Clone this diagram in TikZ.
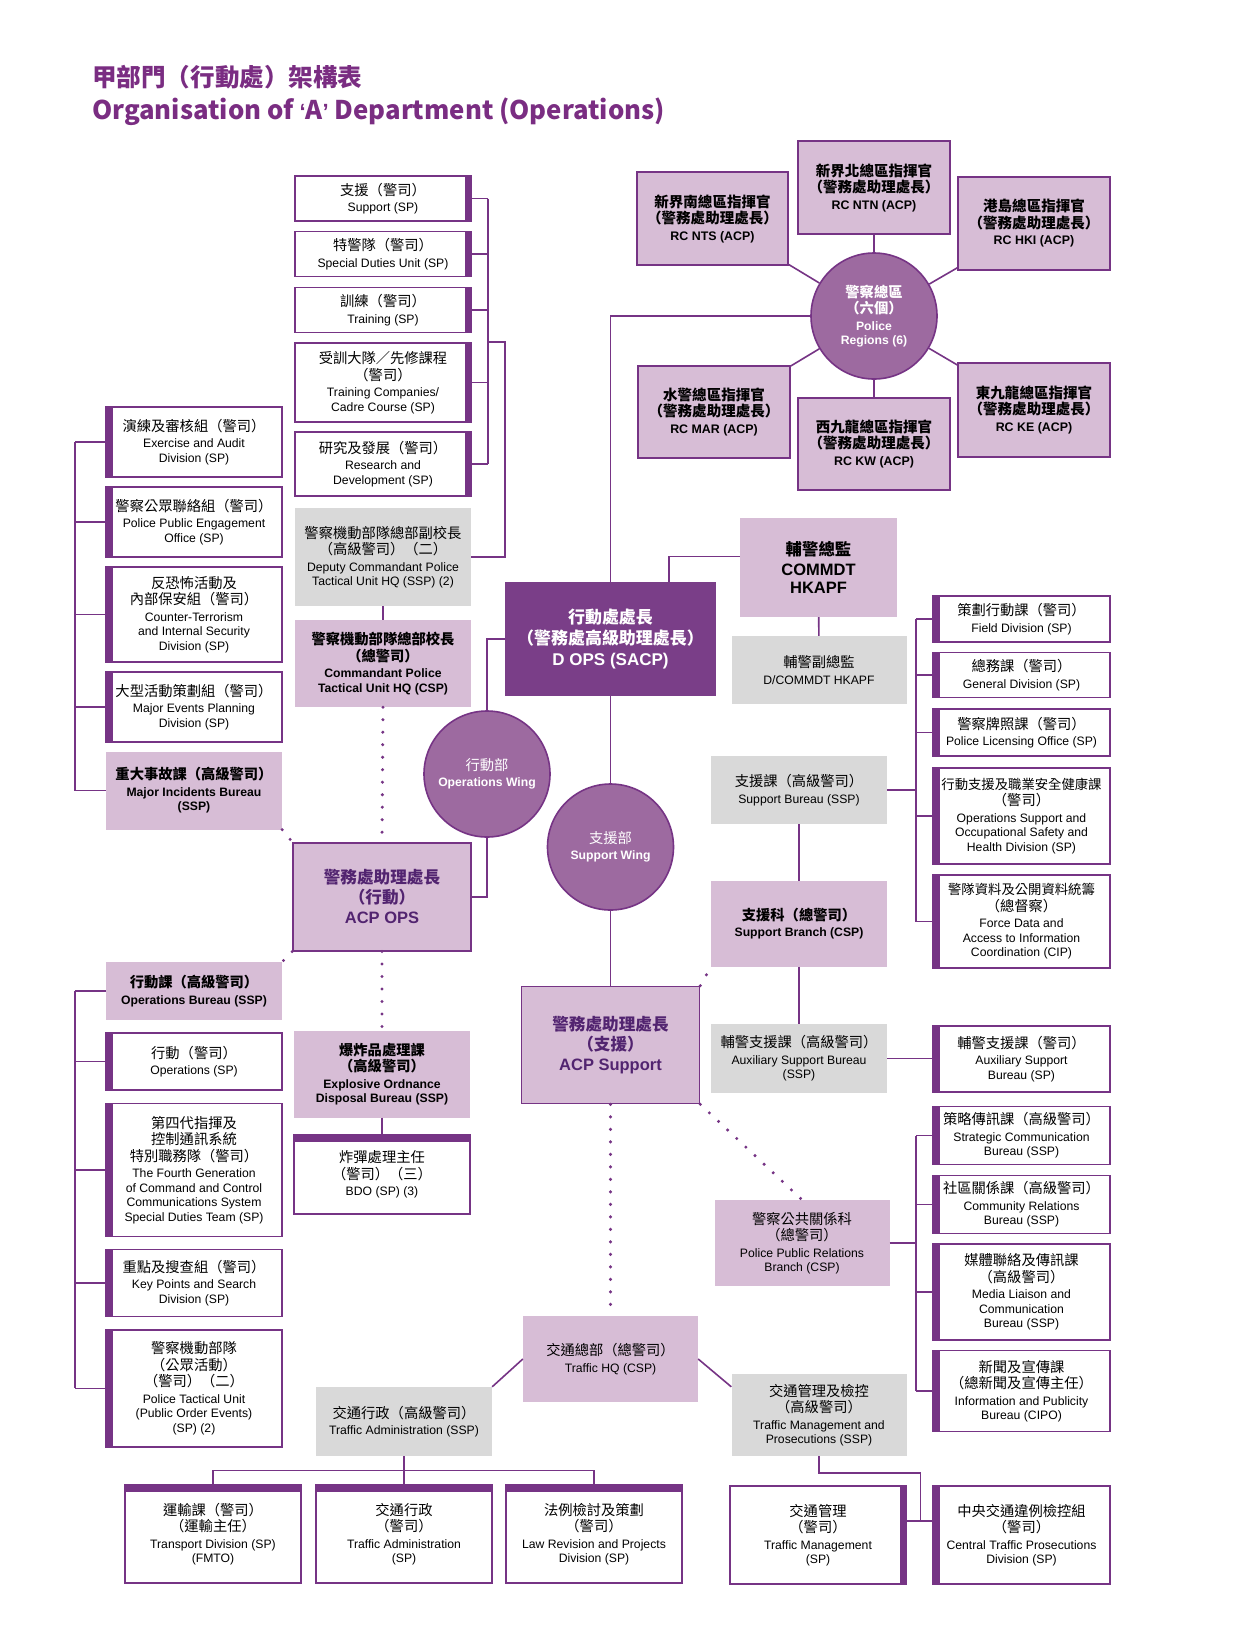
\documentclass[tikz,border=0pt]{standalone}
\usepackage{fontspec}
\setmainfont{Liberation Sans}
\newfontfamily\cjk[Scale=1.17]{Noto Sans CJK TC}
\usepackage{tikz}
\definecolor{OpsPurple}{RGB}{118,52,133}
\definecolor{OpsDark}{RGB}{122,62,136}
\definecolor{WingPurple}{RGB}{157,106,160}
\definecolor{LightPurple}{RGB}{215,189,214}
\definecolor{BoxGray}{RGB}{217,217,217}
\definecolor{TitlePurple}{RGB}{122,45,130}
\definecolor{AcpText}{RGB}{82,36,112}
\newcommand{\zh}[1]{{\cjk #1}\\[2pt]}
\newcommand{\zhs}[1]{{\cjk\fontsize{11.4}{14}\selectfont #1}\\[2pt]}
\newcommand{\bigen}[1]{{\fontsize{16.5}{19}\selectfont #1}}

\begin{document}
\begin{tikzpicture}[x=1pt, y=-1pt, font=\fontsize{12.2}{14.5}\selectfont,
  ln/.style={draw=OpsPurple, line width=1.6pt},
  dots/.style={draw=OpsPurple, line width=3.4pt, line cap=round, dash pattern=on 0pt off 12.5pt},
  box/.style={align=center, inner sep=2pt, minimum width=176pt},
  lbar/.style={box, draw=OpsPurple, line width=1.6pt, fill=white,
              path picture={\fill[OpsPurple] (path picture bounding box.north west) rectangle ([xshift=6.5pt]path picture bounding box.south west);}},
  rbar/.style={box, draw=OpsPurple, line width=1.6pt, fill=white,
              path picture={\fill[OpsPurple] ([xshift=-6.5pt]path picture bounding box.north east) rectangle (path picture bounding box.south east);}},
  tbar/.style={box, draw=OpsPurple, line width=1.6pt, fill=white,
              path picture={\fill[OpsPurple] (path picture bounding box.north west) rectangle ([yshift=-7pt]path picture bounding box.north east);}},
  pbox/.style={box, fill=LightPurple, font=\fontsize{12.2}{14.5}\selectfont\bfseries},
  lpbox/.style={box, fill=LightPurple},
  gbox/.style={box, fill=BoxGray},
  rcbox/.style={box, minimum width=152pt, fill=LightPurple, draw=OpsPurple, line width=1.6pt,
                font=\fontsize{12.4}{14.5}\selectfont\bfseries},
  acp/.style={box, minimum width=178pt, fill=LightPurple, draw=OpsPurple, line width=1.6pt,
              text=AcpText, font=\fontsize{14.2}{18}\selectfont\bfseries},
  wing/.style={circle, minimum size=126pt, inner sep=0pt, fill=WingPurple, draw=OpsPurple,
               line width=1.6pt, text=white, align=center}]
  \fill[white] (0,0) rectangle (1240,1650);
  \useasboundingbox (0,0) rectangle (1240,1650);

  \node[anchor=west, inner sep=0pt, text=TitlePurple, font=\fontsize{21}{26}\selectfont\bfseries\cjk] (ttlzh) at (92,77) {甲部門（行動處）架構表};
  \node[anchor=west, inner sep=0pt, text=TitlePurple, font=\fontsize{22}{26}\selectfont\bfseries\cjk] (ttlen) at (92,112) {Organisation of {\rmfamily ‘}A{\rmfamily ’} Department (Operations)};

  % police regions
  \node[wing, font=\fontsize{12.2}{14.5}\selectfont\bfseries] (reg) at (874,316) {\zh{警察總區}\zh{（六個）}Police\\Regions (6)};
  \node[rcbox, minimum width=151pt, minimum height=93pt] (nts) at (712.5,218.5) {\zh{新界南總區指揮官}\zh{（警務處助理處長）}RC NTS (ACP)};
  \node[rcbox, minimum height=93pt] (ntn) at (874,187.5) {\zh{新界北總區指揮官}\zh{（警務處助理處長）}RC NTN (ACP)};
  \node[rcbox, minimum height=93pt] (hki) at (1034,223.5) {\zh{港島總區指揮官}\zh{（警務處助理處長）}RC HKI (ACP)};
  \node[rcbox, minimum height=92pt] (mar) at (714,412) {\zh{水警總區指揮官}\zh{（警務處助理處長）}RC MAR (ACP)};
  \node[rcbox, minimum height=92pt] (kw) at (874,444) {\zh{西九龍總區指揮官}\zh{（警務處助理處長）}RC KW (ACP)};
  \node[rcbox, minimum height=94pt] (ke) at (1034,410) {\zh{東九龍總區指揮官}\zh{（警務處助理處長）}RC KE (ACP)};

  % top left column
  \node[rbar, minimum height=45pt] (sup) at (383,198.5) {\zh{支援（警司）}Support (SP)};
  \node[rbar, minimum height=45pt] (sdu) at (383,254) {\zh{特警隊（警司）}Special Duties Unit (SP)};
  \node[rbar, minimum height=45pt] (trn) at (383,310) {\zh{訓練（警司）}Training (SP)};
  \node[rbar, minimum height=79pt] (tcc) at (383,382.5) {\zh{受訓大隊／先修課程}\zh{（警司）}Training Companies/\\Cadre Course (SP)};
  \node[rbar, minimum height=64pt] (rnd) at (383,463.7) {\zh{研究及發展（警司）}Research and\\Development (SP)};
  \node[gbox, minimum height=98pt] (dcptu) at (383,557) {\zh{警察機動部隊總部副校長}\zh{（高級警司）（二）}Deputy Commandant Police\\Tactical Unit HQ (SSP) (2)};
  \node[pbox, minimum height=87pt] (cptu) at (383,663.5) {\zh{警察機動部隊總部校長}\zh{（總警司）}Commandant Police\\Tactical Unit HQ (CSP)};

  % left column, upper
  \node[lbar, minimum height=70pt] (ead) at (194,442) {\zh{演練及審核組（警司）}Exercise and Audit\\Division (SP)};
  \node[lbar, minimum height=70pt] (ppe) at (194,522) {\zh{警察公眾聯絡組（警司）}Police Public Engagement\\Office (SP)};
  \node[lbar, minimum height=95pt] (cti) at (194,614.5) {\zh{反恐怖活動及}\zh{內部保安組（警司）}Counter-Terrorism\\and Internal Security\\Division (SP)};
  \node[lbar, minimum height=70pt] (mep) at (194,707) {\zh{大型活動策劃組（警司）}Major Events Planning\\Division (SP)};
  \node[pbox, minimum height=78pt] (mib) at (194,790.5) {\zh{重大事故課（高級警司）}Major Incidents Bureau\\(SSP)};

  % centre
  \node[box, minimum width=211pt, minimum height=114pt, fill=OpsDark, text=white,
        font=\fontsize{14.5}{19}\selectfont\bfseries] (dops) at (610.5,639) {\zh{行動處處長}\zh{（警務處高級助理處長）}{\fontsize{17}{19}\selectfont D OPS (SACP)}};
  \node[pbox, minimum width=157pt, minimum height=99pt, font=\fontsize{14}{18}\selectfont\bfseries] (commdt) at (818.5,567.5) {\zh{輔警總監}\bigen{COMMDT}\\\bigen{HKAPF}};
  \node[gbox, minimum width=175pt, minimum height=68pt] (dcommdt) at (819,670) {\zh{輔警副總監}D/COMMDT HKAPF};
  \node[wing] (opw) at (487,774) {\zh{行動部}\textbf{Operations Wing}};
  \node[wing] (spw) at (610.5,847) {\zh{支援部}\textbf{Support Wing}};
  \node[acp, minimum height=108pt] (acpops) at (382,896.7) {\zh{警務處助理處長}\zh{（行動）}\bigen{ACP OPS}};
  \node[acp, minimum height=117pt] (acpsup) at (610.5,1045) {\zh{警務處助理處長}\zh{（支援）}\bigen{ACP Support}};

  % left column, lower
  \node[pbox, minimum height=58pt] (opb) at (194,991) {\zh{行動課（高級警司）}Operations Bureau (SSP)};
  \node[lbar, minimum height=57pt] (ops) at (194,1061.4) {\zh{行動（警司）}Operations (SP)};
  \node[lbar, minimum height=133pt] (fgc) at (194,1170) {\zh{第四代指揮及}\zh{控制通訊系統}\zh{特別職務隊（警司）}The Fourth Generation\\of Command and Control\\Communications System\\Special Duties Team (SP)};
  \node[lbar, minimum height=67pt] (kps) at (194,1283) {\zh{重點及搜查組（警司）}Key Points and Search\\Division (SP)};
  \node[lbar, minimum height=117pt] (ptu) at (194,1388.3) {\zh{警察機動部隊}\zh{（公眾活動）}\zh{（警司）（二）}Police Tactical Unit\\(Public Order Events)\\(SP) (2)};
  \node[pbox, minimum height=87pt] (eod) at (382,1074) {\zh{爆炸品處理課}\zh{（高級警司）}Explosive Ordnance\\Disposal Bureau (SSP)};
  \node[tbar, minimum height=79pt] (bdo) at (382,1174.5) {\zh{炸彈處理主任}\zh{（警司）（三）}BDO (SP) (3)};

  % support side
  \node[gbox, minimum height=68pt] (spb) at (799,790) {\zh{支援課（高級警司）}Support Bureau (SSP)};
  \node[pbox, minimum height=86pt] (spbr) at (799,923.7) {\zh{支援科（總警司）}Support Branch (CSP)};
  \node[gbox, minimum height=69pt] (asbs) at (799,1058.5) {\zh{輔警支援課（高級警司）}Auxiliary Support Bureau\\(SSP)};
  \node[lpbox, minimum width=175pt, minimum height=86pt] (pprb) at (802,1243) {\zh{警察公共關係科}\zh{（總警司）}Police Public Relations\\Branch (CSP)};

  % right column
  \node[lbar, minimum width=177pt, minimum height=46pt] (fld) at (1021.5,619) {\zh{策劃行動課（警司）}Field Division (SP)};
  \node[lbar, minimum width=177pt, minimum height=45pt] (gen) at (1021.5,675) {\zh{總務課（警司）}General Division (SP)};
  \node[lbar, minimum width=177pt, minimum height=47pt] (plo) at (1021.5,732.5) {\zh{警察牌照課（警司）}Police Licensing Office (SP)};
  \node[lbar, minimum width=177pt, minimum height=96pt] (osh) at (1021.5,816) {\zhs{行動支援及職業安全健康課}\zh{（警司）}Operations Support and\\Occupational Safety and\\Health Division (SP)};
  \node[lbar, minimum width=177pt, minimum height=93pt] (fda) at (1021.5,921.5) {\zhs{警隊資料及公開資料統籌}\zh{（總督察）}Force Data and\\Access to Information\\Coordination (CIP)};
  \node[lbar, minimum width=177pt, minimum height=66pt] (asb) at (1021.5,1059) {\zh{輔警支援課（警司）}Auxiliary Support\\Bureau (SP)};
  \node[lbar, minimum width=177pt, minimum height=58pt] (scb) at (1021.5,1135.5) {\zh{策略傳訊課（高級警司）}Strategic Communication\\Bureau (SSP)};
  \node[lbar, minimum width=177pt, minimum height=58pt] (crb) at (1021.5,1204.5) {\zh{社區關係課（高級警司）}Community Relations\\Bureau (SSP)};
  \node[lbar, minimum width=177pt, minimum height=96pt] (mlc) at (1021.5,1292) {\zh{媒體聯絡及傳訊課}\zh{（高級警司）}Media Liaison and\\Communication\\Bureau (SSP)};
  \node[lbar, minimum width=177pt, minimum height=81pt] (ipb) at (1021.5,1391) {\zh{新聞及宣傳課}\zh{（總新聞及宣傳主任）}Information and Publicity\\Bureau (CIPO)};

  % traffic
  \node[lpbox, minimum width=175pt, minimum height=86pt] (thq) at (610.5,1359) {\zh{交通總部（總警司）}Traffic HQ (CSP)};
  \node[gbox, minimum height=69pt] (tassp) at (404,1421.5) {\zh{交通行政（高級警司）}Traffic Administration (SSP)};
  \node[gbox, minimum width=175pt, minimum height=82pt] (tmp) at (819,1415) {\zh{交通管理及檢控}\zh{（高級警司）}Traffic Management and\\Prosecutions (SSP)};
  \node[tbar, minimum height=98pt] (trd) at (213,1534) {\zh{運輸課（警司）}\zh{（運輸主任）}Transport Division (SP)\\(FMTO)};
  \node[tbar, minimum height=98pt] (tasp) at (404,1534) {\zh{交通行政}\zh{（警司）}Traffic Administration\\(SP)};
  \node[tbar, minimum height=98pt] (lrp) at (594,1534) {\zh{法例檢討及策劃}\zh{（警司）}Law Revision and Projects\\Division (SP)};
  \node[rbar, minimum height=98pt] (tmsp) at (818,1535) {\zh{交通管理}\zh{（警司）}Traffic Management\\(SP)};
  \node[lbar, minimum width=177pt, minimum height=98pt] (ctp) at (1021.5,1535) {\zh{中央交通違例檢控組}\zh{（警司）}Central Traffic Prosecutions\\Division (SP)};

  \coordinate (tbr) at (488,198.5);
  \coordinate (lbr) at (75,442);
  \coordinate (rbr) at (916,619);
  \coordinate (trail) at (404,1470.5);
  \coordinate (tjoin) at (920.5,1521);

  \draw[ln] (dops.north) |- (reg);
  \foreach \r in {nts,ntn,hki,mar,kw,ke} \draw[ln] (\r) -- (reg);

  \foreach \n in {sup,sdu,trn,tcc,rnd} \draw[ln] (\n.east) -- (\n.east -| tbr);
  \draw[ln] (sup.east -| tbr) -- (rnd.east -| tbr);
  \draw[ln] (tbr |- tcc.north) -- ++(17,0) |- (dcptu.east);
  \draw[ln] (dcptu) -- (cptu);
  \draw[dots] (cptu.south) -- (acpops.north);

  \foreach \n in {ead,ppe,cti,mep,mib} \draw[ln] (\n.west) -- (\n.west -| lbr);
  \draw[ln] (ead.west -| lbr) -- (mib.west -| lbr);
  \foreach \n in {opb,ops,fgc,kps,ptu} \draw[ln] (\n.west) -- (\n.west -| lbr);
  \draw[ln] (opb.west -| lbr) -- (ptu.west -| lbr);

  \draw[ln] ([xshift=58.5pt]dops.north) |- ([yshift=11pt]commdt.west);
  \draw[ln] (commdt) -- (dcommdt);
  \draw[ln] (dops.west) -| (opw);
  \draw[ln] (opw) |- (acpops.east);
  \draw[ln] (dops) -- (spw);
  \draw[ln] (spw) -- (acpsup);

  \draw[dots] (mib.south east) -- (acpops.north west);
  \draw[dots] (acpops.south west) -- (opb.north east);
  \draw[dots] (acpops.south) -- (eod.north);
  \draw[ln] (eod) -- (bdo);

  \foreach \n in {fld,gen,plo,osh,fda} \draw[ln] (\n.west) -- (\n.west -| rbr);
  \draw[ln] (fld.west -| rbr) -- (fda.west -| rbr);
  \draw[ln] (spb.east) -- (spb.east -| rbr);
  \draw[ln] (spb) -- (spbr);
  \draw[ln] (spbr) -- (asbs);
  \draw[ln] (asbs.east) -- (asbs.east -| asb.west);
  \draw[dots] (acpsup.north east) -- (spbr.south west);
  \draw[dots] (acpsup.south east) -- (pprb.north);
  \foreach \n in {scb,crb,mlc,ipb} \draw[ln] (\n.west) -- (\n.west -| rbr);
  \draw[ln] (scb.west -| rbr) -- (ipb.west -| rbr);
  \draw[ln] (pprb.east) -- (pprb.east -| rbr);

  \draw[dots] (acpsup.south) -- (thq.north);
  \draw[ln] (thq.west) -- (tassp.north east);
  \draw[ln] (thq.east) -- ([yshift=-13pt]tmp.north west);
  \draw[ln] (tassp) -- (tasp);
  \draw[ln] (trd.north) -- (trd.north |- trail) -- (lrp.north |- trail) -- (lrp.north);
  \draw[ln] (tmp.south) -- ++(0,16.5) -| (tjoin);
  \draw[ln] ([yshift=14pt]tmsp.east) -- ([yshift=14pt]ctp.west);
\end{tikzpicture}
\end{document}
